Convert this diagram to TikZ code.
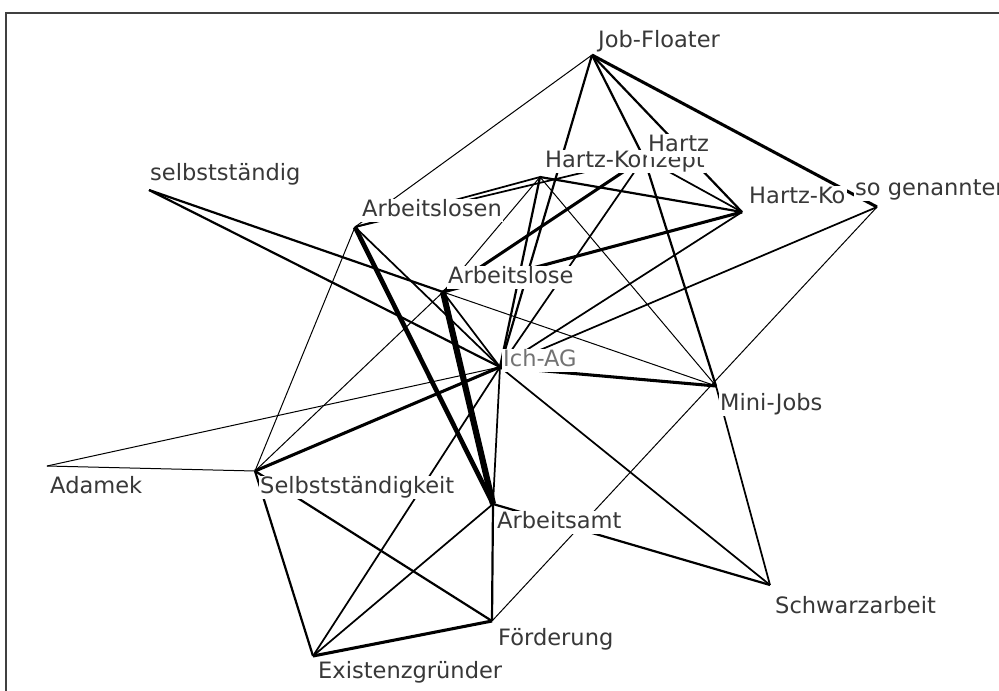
\documentclass[tikz,border=0pt]{standalone}
\usepackage{fontspec}
\setmainfont{DejaVu Sans}
\begin{document}
\begin{tikzpicture}[x=0.75pt,y=-0.75pt,
  w1/.style={line width=0.75pt},
  w2/.style={line width=1.3pt},
  w3/.style={line width=1.65pt},
  w4/.style={line width=2.3pt},
  w5/.style={line width=3.5pt},
  w6/.style={line width=4.6pt},
  frame/.style={draw=black!75,line width=1.7pt},
  lab/.style={fill=white,anchor=base west,inner xsep=1.1pt,inner ysep=0.3pt,
    text height=12.8pt,text depth=4.1pt,text=black!78,
    font=\fontsize{16.9pt}{20pt}\selectfont},
  labc/.style={lab,text=black!55}]
\useasboundingbox (0,0) rectangle (999,690);
\fill[white] (0,0) rectangle (999,690);
% points
\coordinate (JF) at (592,55);
\coordinate (H) at (644,158);
\coordinate (HK) at (540,177);
\coordinate (HKo) at (742,212);
\coordinate (SG) at (877,207);
\coordinate (SD) at (149,190);
\coordinate (AN) at (355,227);
\coordinate (AE) at (443,292);
\coordinate (IA) at (500,367);
\coordinate (MJ) at (716,386);
\coordinate (AD) at (47,466);
\coordinate (SK) at (255,471);
\coordinate (AA) at (493,504);
\coordinate (SA) at (770,585);
\coordinate (FO) at (492,621);
\coordinate (EG) at (313,656);
% connectors
\draw[w1] (JF) -- (AN);
\draw[w3] (JF) -- (IA);
\draw[w3] (JF) -- (H);
\draw[w3] (JF) -- (HKo);
\draw[w4] (JF) -- (SG);
\draw[w3] (SD) -- (AE);
\draw[w3] (SD) -- (IA);
\draw[w2] (AN) -- (HK);
\draw[w2] (AN) -- (H);
\draw[w5] (AN) -- (AA);
\draw[w2] (AN) -- (IA);
\draw[w1] (AN) -- (SK);
\draw[w4] (AE) -- (H);
\draw[w4] (AE) -- (HKo);
\draw[w1] (AE) -- (HK);
\draw[w1] (AE) -- (MJ);
\draw[w1] (AE) -- (SK);
\draw[w6] (AE) -- (AA);
\draw[w2] (AE) -- (IA);
\draw[w3] (HK) -- (IA);
\draw[w3] (HK) -- (HKo);
\draw[w1] (HK) -- (MJ);
\draw[w2] (H) -- (HKo);
\draw[w3] (H) -- (MJ);
\draw[w2] (H) -- (IA);
\draw[w2] (IA) -- (HKo);
\draw[w2] (IA) -- (SG);
\draw[w4] (IA) -- (MJ);
\draw[w2] (IA) -- (SA);
\draw[w2] (IA) -- (AA);
\draw[w4] (IA) -- (SK);
\draw[w2] (IA) -- (EG);
\draw[w1] (IA) -- (AD);
\draw[w1] (SG) -- (FO);
\draw[w1] (SK) -- (AD);
\draw[w3] (SK) -- (EG);
\draw[w3] (SK) -- (FO);
\draw[w3] (AA) -- (FO);
\draw[w2] (AA) -- (EG);
\draw[w3] (AA) -- (SA);
\draw[w4] (EG) -- (FO);
\draw[w2] (MJ) -- (SA);
% labels
\node[lab] (lJF) at (596.5,47) {Job-Floater};
\node[lab] (lHK) at (543.5,167) {Hartz-Konzept};
\node[lab] (lH) at (646.5,151) {Hartz};
\node[lab] (lHKo) at (747.5,203) {Hartz-Ko};
\node[lab] (lSG) at (853.5,195) {so genannten};
\node[lab] (lSD) at (148.5,180) {selbstständig};
\node[lab] (lAN) at (360.5,216) {Arbeitslosen};
\node[lab] (lAE) at (446.5,283) {Arbeitslose};
\node[labc] (lIA) at (501.5,366) {Ich-AG};
\node[lab] (lMJ) at (718.5,410) {Mini-Jobs};
\node[lab] (lAD) at (48.5,493) {Adamek};
\node[lab] (lSK) at (258.5,493) {Selbstständigkeit};
\node[lab] (lAA) at (495.5,528) {Arbeitsamt};
\node[lab] (lSA) at (773.5,613) {Schwarzarbeit};
\node[lab] (lFO) at (496.5,645) {Förderung};
\node[lab] (lEG) at (316.5,678) {Existenzgründer};
% frame
\draw[frame] (6.2,692) -- (6.2,12.8) -- (1001,12.8);
\end{tikzpicture}
\end{document}
